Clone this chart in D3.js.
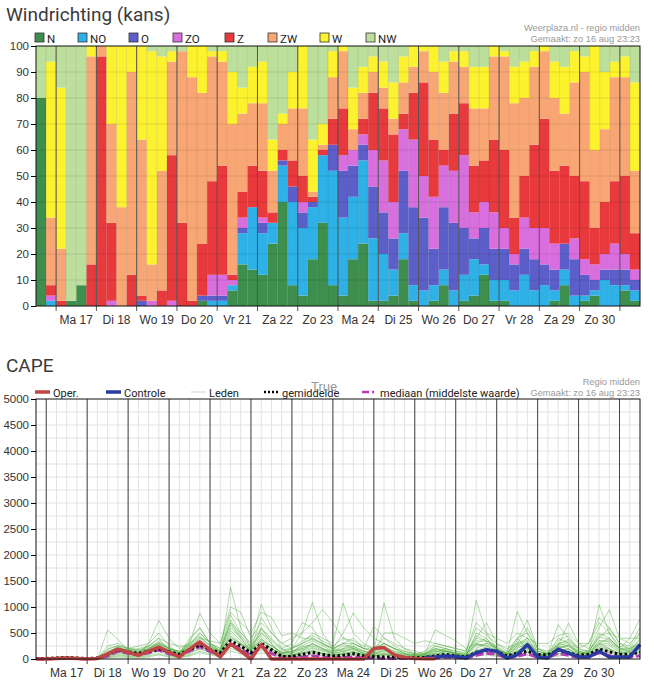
<!DOCTYPE html>
<html>
<head>
<meta charset="utf-8">
<script src="https://cdn.jsdelivr.net/npm/d3@7"></script>
<style>
body { margin: 0; background: #fff; }
svg { display: block; font-family: "Liberation Sans", Arial, sans-serif; }
</style>
</head>
<body>
<svg width="654" height="681"></svg>
<script>
// ---- data: wind direction chance (%) per 6h period, from 16 aug 12:00
var directions = ["N", "NO", "O", "ZO", "Z", "ZW", "W", "NW"];
var dirColors = ["#3e8e4e", "#2eb1e6", "#5c5fc9", "#d96fdf", "#e8393d", "#f8a674", "#fdf22e", "#bddf9c"];
var dayLabels = ["Ma 17", "Di 18", "Wo 19", "Do 20", "Vr 21", "Za 22", "Zo 23", "Ma 24", "Di 25", "Wo 26", "Do 27", "Vr 28", "Za 29", "Zo 30"];

var dirN  = [80,0,0,2,8,0,0,0,0,0, 0,0,0,0,0,0,2,0,0,6, 16,14,12,24,40,8,4,18,32,8, 4,18,24,2,2,4,18,2,0,2, 8,0,2,4,12,2,2,0,0,0, 0,2,8,0,2,4,0,0,6,2];
var dirNO = [0,2,0,0,0,0,0,0,0,0, 0,0,0,0,0,0,0,2,2,2, 12,24,16,8,14,32,26,20,26,44, 30,24,32,24,18,10,10,6,6,6, 6,6,10,14,4,8,8,6,12,6, 8,4,6,4,2,2,10,8,2,4];
var dirO  = [0,0,0,0,0,0,0,0,0,0, 2,0,0,0,0,0,2,2,2,0, 2,0,4,0,2,6,6,2,0,10, 18,12,6,20,16,12,24,30,28,14, 24,26,18,8,14,12,12,10,10,12, 8,8,10,14,8,4,4,6,6,4];
var dirZO = [0,2,0,0,0,0,0,2,0,0, 0,2,0,2,0,0,0,8,8,2, 4,0,2,0,0,0,4,0,0,0, 6,6,4,14,20,14,16,26,16,20, 16,20,28,10,10,14,8,4,12,12, 14,10,0,8,6,6,6,10,6,4];
var dirZ  = [0,4,2,0,0,16,96,30,0,12, 2,0,6,56,32,2,20,36,42,2, 10,16,18,4,4,10,10,2,2,10, 18,0,6,22,20,26,6,18,36,22, 6,22,20,18,16,28,30,14,16,32, 42,28,30,24,30,14,20,24,30,14];
var dirZW = [0,26,20,0,0,80,4,38,38,78, 60,14,46,36,66,86,58,48,40,58, 30,24,26,16,10,20,26,2,2,16, 22,8,10,8,8,6,12,10,12,26, 22,20,14,22,20,32,36,44,30,30, 26,28,20,36,42,30,28,40,38,24];
var dirW  = [0,60,62,0,0,4,0,30,62,10, 36,82,44,4,0,12,18,2,4,20, 10,14,16,12,4,14,24,20,8,10, 2,16,10,6,10,14,10,8,2,10, 12,4,6,16,16,4,2,14,14,6, 2,14,18,12,6,40,22,6,8,34];
var dirNW = [20,6,16,98,92,0,0,0,0,0, 0,2,4,2,2,0,0,2,2,10, 16,8,6,36,26,10,0,36,30,2, 0,16,8,4,6,14,4,0,0,0, 6,2,2,8,8,0,2,8,6,2, 0,6,8,2,4,0,10,6,4,14];

// ---- data: CAPE (J/kg) every 6h, from 16 aug 18:00
var oper = [0,0,10,20,10,0,10,100,190,130, 70,150,230,130,40,190,330,180,40,290,
  150,0,280,0,0,0,0,0,0,0, 0,0,0,200,220,80,30,10,5,5,
  null,null,null,null,null,null,null,null,null,null, null,null,null,null,null,null,null,null,null,null];
var controle = [null,null,null,null,null,null,null,null,null,null, null,null,null,null,null,null,null,null,null,null,
  null,null,null,null,null,null,null,null,null,null, null,null,null,null,null,null,null,null,30,40,
  60,50,20,115,180,150,20,80,275,40, 20,190,115,40,40,150,40,40,40,275];
var gemiddelde = [10,10,20,30,20,10,20,90,180,140, 110,150,190,140,90,180,270,180,120,350,
  250,120,300,180,50,50,90,130,90,60, 70,100,60,50,40,40,30,25,30,60,
  90,60,40,130,170,150,60,110,150,80, 80,170,120,70,90,190,140,90,90,130];
var mediaan = [0,0,10,10,10,0,10,60,150,110, 80,120,170,100,60,150,240,140,80,290,
  190,70,250,110,20,20,40,60,40,20, 30,40,20,20,10,10,10,10,10,20,
  40,30,10,70,110,90,20,50,100,30, 30,110,70,30,40,120,70,40,40,60];
var leden = [
  [0,10,20,10,0,0,10,120,200,100, 60,150,300,120,50,200,400,250,100,1380, 600,200,500,300,60,40,150,300,200,100, 80,150,60,40,100,60,20,10,40,120, 200,100,60,1130,500,200,40,150,300,80, 60,200,150,60,80,300,200,100,150,300],
  [0,0,30,50,20,0,0,80,150,120, 100,200,350,200,100,250,500,300,150,700, 400,150,600,300,100,200,500,1090,500,200, 150,200,100,80,200,100,40,20,30,80, 150,80,50,300,400,150,60,250,400,100, 50,250,200,80,100,1045,500,200,150,400],
  [0,0,0,20,10,0,20,250,300,200, 150,250,400,150,80,350,600,300,200,850, 500,300,1050,600,200,100,300,400,300,200, 300,400,200,150,1075,400,200,100,50,150, 100,60,40,200,300,200,100,400,200,60, 100,400,300,100,150,400,600,300,200,500],
  [0,10,20,30,20,0,0,100,200,150, 120,200,300,200,150,300,880,500,300,1000, 900,400,700,500,300,200,300,500,400,300, 1075,500,300,200,300,200,100,80,100,200, 150,100,80,300,200,150,100,915,500,150, 100,300,250,100,150,500,400,200,200,300],
  [0,0,0,10,10,0,10,80,150,200, 250,300,740,400,200,300,500,300,150,600, 400,200,800,500,300,400,500,700,950,700, 400,300,200,200,300,200,100,60,80,250, 200,150,100,400,700,300,200,300,600,200, 150,250,690,300,200,600,950,400,300,500],
  [0,0,0,0,0,0,0,560,380,150, 100,300,500,250,100,400,600,300,200,700, 500,300,600,400,200,300,700,600,300,200, 500,885,600,400,300,200,150,100,100,200, 150,100,60,500,400,200,100,350,750,200, 100,660,400,200,300,800,600,300,250,600],
  [0,0,10,20,10,0,0,50,100,80, 60,150,250,150,80,200,350,200,100,500, 300,150,400,200,100,150,200,300,200,150, 200,300,200,630,400,300,200,150,100,560, 450,350,200,300,250,150,80,200,300,150, 100,200,250,150,100,300,400,200,400,770],
  [0,0,0,0,0,0,20,200,250,150, 120,250,400,300,250,250,400,350,300,900, 700,500,900,800,450,500,400,400,300,200, 300,200,150,100,500,500,400,300,350,300, 250,200,150,700,500,400,300,500,400,300, 300,450,500,300,300,700,500,400,400,400],
  [0,0,0,10,0,0,0,60,120,100, 80,120,200,100,60,150,300,200,100,400, 300,200,350,200,100,80,150,200,150,100, 150,200,100,80,150,100,60,40,60,100, 80,60,40,150,200,100,60,150,200,60, 40,150,200,80,60,250,200,100,80,200],
  [0,0,0,0,0,0,0,40,80,60, 50,80,150,80,40,100,200,150,80,300, 200,100,250,150,60,50,100,150,100,60, 100,150,80,60,100,60,40,20,30,60, 50,30,20,100,150,80,40,100,150,50, 30,100,150,60,40,200,150,80,60,150],
  [0,0,0,0,0,0,0,150,220,180, 150,200,280,180,120,300,450,250,150,750, 450,250,500,350,150,200,350,450,350,250, 400,350,250,200,400,250,150,100,150,300, 250,200,150,600,450,300,150,400,500,200, 120,350,450,200,150,450,500,250,200,350],
  [0,0,0,0,0,0,0,100,180,160, 200,250,300,200,150,250,350,200,120,550, 350,180,450,250,120,150,250,350,250,150, 250,250,150,120,250,150,100,60,80,180, 150,120,80,450,350,250,120,300,350,120, 80,300,350,150,120,350,350,200,150,250],
  [0,10,10,20,10,0,0,70,130,110, 90,180,320,220,130,220,300,200,130,450, 280,160,350,250,120,120,200,250,180,120, 180,220,120,100,180,120,80,50,60,150, 120,80,60,250,300,180,80,250,300,100, 60,200,280,120,100,300,300,150,120,200],
  [0,0,0,0,0,0,0,20,40,30, 20,40,80,40,20,60,120,80,40,150, 100,50,120,80,30,30,60,80,60,40, 60,80,50,30,60,40,20,10,20,40, 30,20,10,60,80,50,20,60,80,30, 20,60,80,40,30,100,80,40,30,80],
  [0,0,0,0,0,0,10,180,260,200, 180,220,260,160,100,280,420,260,160,650, 420,220,560,380,180,200,300,380,280,180, 300,300,200,150,300,200,120,80,120,250, 200,150,120,400,350,200,100,300,400,150, 100,280,380,180,150,420,380,200,180,300],
  [0,0,0,0,0,0,0,30,60,50, 40,60,100,60,30,80,150,100,60,200, 150,80,180,100,50,60,100,120,80,60, 80,100,70,50,80,60,30,20,30,60, 50,40,30,80,120,70,30,80,120,40, 30,100,120,60,40,150,120,60,50,120],
  [0,0,20,40,20,0,0,130,240,220, 170,180,220,190,140,200,260,220,170,380, 260,140,300,200,90,110,180,220,170,110, 140,180,110,90,160,110,70,40,90,200, 170,120,90,280,260,160,90,220,270,90, 70,220,260,110,90,280,260,130,110,220],
  [0,0,0,0,0,0,0,90,160,140, 130,160,190,130,90,170,230,160,110,320, 220,120,260,170,70,80,130,170,120,80, 120,130,90,70,120,80,50,30,50,110, 90,70,50,170,220,120,60,170,220,70, 50,160,190,90,70,220,190,110,90,170],
  [0,0,0,10,0,0,0,110,200,170, 120,140,180,160,110,190,280,200,140,420, 300,170,380,260,130,140,230,280,200,130, 200,240,150,110,220,140,90,60,80,160, 140,110,70,350,330,220,110,280,330,110, 80,260,320,140,110,350,330,170,140,260],
  [0,0,0,0,0,0,0,70,130,120, 110,130,160,110,70,140,190,130,90,260, 180,100,210,140,60,70,110,140,100,70, 100,110,80,60,100,70,40,20,40,90, 80,60,40,130,180,100,50,140,180,60, 40,130,160,70,60,180,160,90,70,140]
];

var svg = d3.select("svg");
var left = 36, right = 640;
var gray = "#999";
var fmt = d3.format("d");

function hrs(d, h) { return d3.utcHour.offset(d, h); }

// ================= Windrichting =================
var windStart = new Date(Date.UTC(2020, 7, 16, 12));
var windEnd = new Date(Date.UTC(2020, 7, 31, 12));
var xw = d3.scaleUtc().domain([windStart, windEnd]).range([left, right]);
var yw = d3.scaleLinear().domain([0, 100]).range([306, 46]);

var dirSeries = [dirN, dirNO, dirO, dirZO, dirZ, dirZW, dirW, dirNW];
var windRows = dirN.map(function(v, i) {
  var r = { t: hrs(windStart, 6 * i) };
  directions.forEach(function(k, j) { r[k] = dirSeries[j][i]; });
  return r;
});
var stack = d3.stack().keys(directions)(windRows);

var gw = svg.append("g");
gw.selectAll("g.layer")
  .data(stack)
  .enter().append("g")
    .attr("class", "layer")
    .attr("fill", function(d, i) { return dirColors[i]; })
  .selectAll("rect")
  .data(function(d) { return d; })
  .enter().append("rect")
    .attr("x", function(d) { return xw(d.data.t); })
    .attr("width", function(d) { return xw(hrs(d.data.t, 6)) - xw(d.data.t); })
    .attr("y", function(d) { return yw(d[1]); })
    .attr("height", function(d) { return yw(d[0]) - yw(d[1]); });

// faint grid over the bars
gw.selectAll("line.hg")
  .data(d3.range(10, 100, 10))
  .enter().append("line")
    .attr("x1", left).attr("x2", right)
    .attr("y1", function(d) { return yw(d); }).attr("y2", function(d) { return yw(d); })
    .attr("stroke", "rgba(0,0,0,0.10)");
gw.selectAll("line.vg")
  .data(d3.utcHour.every(6).range(hrs(windStart, 6), windEnd))
  .enter().append("line")
    .attr("x1", function(d) { return xw(d); }).attr("x2", function(d) { return xw(d); })
    .attr("y1", 46).attr("y2", 306)
    .attr("stroke", "rgba(0,0,0,0.10)");

var windDays = d3.utcDay.range(new Date(Date.UTC(2020, 7, 17)), windEnd);
gw.selectAll("line.day")
  .data(windDays)
  .enter().append("line")
    .attr("x1", function(d) { return xw(d); }).attr("x2", function(d) { return xw(d); })
    .attr("y1", 46).attr("y2", 311)
    .attr("stroke", "#555");

gw.append("rect")
  .attr("x", left).attr("y", 46).attr("width", right - left).attr("height", 260)
  .attr("fill", "none").attr("stroke", "#111");

gw.append("g")
  .attr("transform", "translate(" + left + ",0)")
  .call(d3.axisLeft(yw).tickValues(d3.range(0, 101, 10)).tickFormat(fmt).tickSize(5).tickPadding(2))
  .call(function(a) { a.select(".domain").remove(); })
  .call(function(a) { a.selectAll("text").attr("font-size", 11.5).attr("fill", "#333").attr("font-family", "Liberation Sans, Arial"); });

gw.selectAll("text.day")
  .data(dayLabels)
  .enter().append("text")
    .attr("x", function(d, i) { return xw(hrs(windDays[i], 12)); })
    .attr("y", 324)
    .attr("text-anchor", "middle")
    .attr("font-size", 12)
    .attr("fill", "#333")
    .text(function(d) { return d; });

svg.append("text").attr("x", 6).attr("y", 21)
  .attr("font-family", "Roboto").attr("font-size", 19).attr("fill", "#3b3b3b")
  .text("Windrichting (kans)");
svg.append("text").attr("x", 640).attr("y", 31).attr("text-anchor", "end")
  .attr("font-size", 9.3).attr("fill", gray).text("Weerplaza.nl - regio midden");
svg.append("text").attr("x", 640).attr("y", 42).attr("text-anchor", "end")
  .attr("font-size", 9.3).attr("fill", gray).text("Gemaakt: zo 16 aug 23:23");

var legendX = [35, 78, 129, 173, 225, 268, 320, 366];
var lg = svg.append("g").selectAll("g")
  .data(directions)
  .enter().append("g")
    .attr("transform", function(d, i) { return "translate(" + legendX[i] + ",33)"; });
lg.append("rect").attr("width", 9).attr("height", 9)
  .attr("fill", function(d, i) { return dirColors[i]; })
  .attr("stroke", "#333").attr("stroke-width", 0.8);
lg.append("text").attr("x", 12).attr("y", 9.5).attr("font-size", 11.5)
  .attr("font-family", "Roboto").attr("fill", "#222")
  .text(function(d) { return d; });

// ================= CAPE =================
var capeStart = new Date(Date.UTC(2020, 7, 16, 18));
var capeEnd = new Date(Date.UTC(2020, 7, 31, 12));
var xc = d3.scaleUtc().domain([capeStart, capeEnd]).range([left, right]);
var yc = d3.scaleLinear().domain([0, 5000]).range([659, 399]);
var capeTimes = gemiddelde.map(function(v, i) { return hrs(capeStart, 6 * i); });

var gc = svg.append("g");
gc.selectAll("line.hg")
  .data(d3.range(250, 5000, 250))
  .enter().append("line")
    .attr("x1", left).attr("x2", right)
    .attr("y1", function(d) { return yc(d); }).attr("y2", function(d) { return yc(d); })
    .attr("stroke", "#e2e2e2");
gc.selectAll("line.vg")
  .data(d3.utcHour.every(6).range(hrs(capeStart, 6), capeEnd))
  .enter().append("line")
    .attr("x1", function(d) { return xc(d); }).attr("x2", function(d) { return xc(d); })
    .attr("y1", 399).attr("y2", 659)
    .attr("stroke", "#e2e2e2");
var capeDays = d3.utcDay.range(new Date(Date.UTC(2020, 7, 17)), capeEnd);
gc.selectAll("line.day")
  .data(capeDays)
  .enter().append("line")
    .attr("x1", function(d) { return xc(d); }).attr("x2", function(d) { return xc(d); })
    .attr("y1", 399).attr("y2", 664)
    .attr("stroke", "#444");

function lineOf(arr) {
  return d3.line()
    .defined(function(d) { return d != null; })
    .x(function(d, i) { return xc(capeTimes[i]); })
    .y(function(d) { return yc(d); })(arr);
}

gc.selectAll("path.lid")
  .data(leden)
  .enter().append("path")
    .attr("d", lineOf)
    .attr("fill", "none")
    .attr("stroke", "#4fae3f")
    .attr("stroke-opacity", 0.45)
    .attr("stroke-width", 1);

gc.append("path").attr("d", lineOf(mediaan)).attr("fill", "none")
  .attr("stroke", "#b83ab8").attr("stroke-width", 3).attr("stroke-dasharray", "8,3");
gc.append("path").attr("d", lineOf(gemiddelde)).attr("fill", "none")
  .attr("stroke", "#000").attr("stroke-width", 3).attr("stroke-dasharray", "2.5,2.5");
gc.append("path").attr("d", lineOf(controle)).attr("fill", "none")
  .attr("stroke", "#2b3aa0").attr("stroke-width", 3.5).attr("stroke-linejoin", "round");
gc.append("path").attr("d", lineOf(oper)).attr("fill", "none")
  .attr("stroke", "#c04545").attr("stroke-width", 3.5).attr("stroke-linejoin", "round");

gc.append("rect")
  .attr("x", left).attr("y", 399).attr("width", right - left).attr("height", 260)
  .attr("fill", "none").attr("stroke", "#111");

gc.append("g")
  .attr("transform", "translate(" + left + ",0)")
  .call(d3.axisLeft(yc).tickValues(d3.range(0, 5001, 500)).tickFormat(fmt).tickSize(5).tickPadding(2))
  .call(function(a) { a.select(".domain").remove(); })
  .call(function(a) { a.selectAll("text").attr("font-size", 11.5).attr("fill", "#333").attr("font-family", "Liberation Sans, Arial"); });

gc.selectAll("text.day")
  .data(dayLabels)
  .enter().append("text")
    .attr("x", function(d, i) { return xc(hrs(capeDays[i], 12)); })
    .attr("y", 677)
    .attr("text-anchor", "middle")
    .attr("font-size", 12)
    .attr("fill", "#333")
    .text(function(d) { return d; });

svg.append("text").attr("x", 6).attr("y", 372)
  .attr("font-family", "Roboto").attr("font-size", 19).attr("fill", "#3b3b3b")
  .text("CAPE");
svg.append("text").attr("x", 640).attr("y", 385).attr("text-anchor", "end")
  .attr("font-size", 9.3).attr("fill", gray).text("Regio midden");
svg.append("text").attr("x", 640).attr("y", 396).attr("text-anchor", "end")
  .attr("font-size", 9.3).attr("fill", gray).text("Gemaakt: zo 16 aug 23:23");

var capeLegend = [
  { name: "Oper.", x: 35, stroke: "#c04545", w: 3.5, dash: null },
  { name: "Controle", x: 106, stroke: "#2b3aa0", w: 3.5, dash: null },
  { name: "Leden", x: 191, stroke: "#c8dcc0", w: 1, dash: null },
  { name: "gemiddelde", x: 264, stroke: "#000", w: 2.5, dash: "2,2" },
  { name: "mediaan (middelste waarde)", x: 362, stroke: "#b83ab8", w: 2.5, dash: "7,3,2,3" }
];
var cl = svg.append("g").selectAll("g")
  .data(capeLegend)
  .enter().append("g")
    .attr("transform", function(d) { return "translate(" + d.x + ",392)"; });
cl.append("line").attr("x1", 0).attr("x2", 15).attr("y1", 0).attr("y2", 0)
  .attr("stroke", function(d) { return d.stroke; })
  .attr("stroke-width", function(d) { return d.w; })
  .attr("stroke-dasharray", function(d) { return d.dash; });
cl.append("text").attr("x", 18).attr("y", 4.5).attr("font-size", 11)
  .attr("font-family", "Roboto").attr("fill", "#222")
  .text(function(d) { return d.name; });
svg.append("text").attr("x", 311).attr("y", 391).attr("font-size", 13).attr("fill", "#999")
  .text("True");
</script>
</body>
</html>
